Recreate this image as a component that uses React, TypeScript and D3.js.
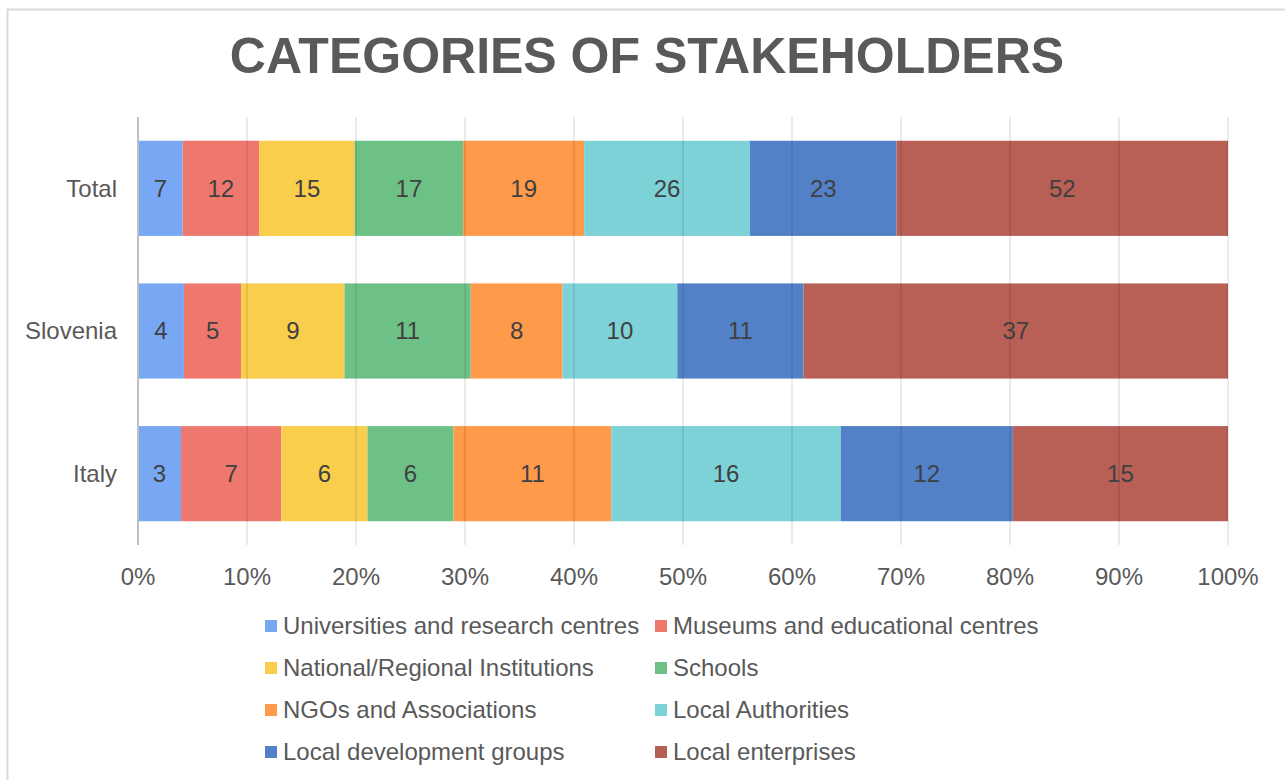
import React from "react";
import * as d3 from "d3";

const categories = ["Total", "Slovenia", "Italy"];
const seriesNames = [
  "Universities and research centres",
  "Museums and educational centres",
  "National/Regional Institutions",
  "Schools",
  "NGOs and Associations",
  "Local Authorities",
  "Local development groups",
  "Local enterprises",
];
const universities = [7, 4, 3];
const museums = [12, 5, 7];
const national = [15, 9, 6];
const schools = [17, 11, 6];
const ngos = [19, 8, 11];
const localAuthorities = [26, 10, 16];
const localDevelopment = [23, 11, 12];
const localEnterprises = [52, 37, 15];
const seriesColors = ["#78A8F4", "#EF786E", "#F9CE4C", "#6DC186", "#FF9A4B", "#7DD2D8", "#5281C8", "#B85F56"];
const tickValues = [0, 0.1, 0.2, 0.3, 0.4, 0.5, 0.6, 0.7, 0.8, 0.9, 1];

const seriesValues = [universities, museums, national, schools, ngos, localAuthorities, localDevelopment, localEnterprises];

export default function App() {
  const W = 1285, H = 780;
  const x = d3.scaleLinear().domain([0, 1]).range([138, 1228]);
  const y = d3.scaleBand<string>().domain(categories).range([117, 545]).paddingInner(0.333).paddingOuter(0.1665);
  const fmt = d3.format(".0%");
  const font = "'Liberation Sans', Arial, sans-serif";

  const rows = categories.map((c, ci) => {
    const vals = seriesValues.map((s) => s[ci]);
    const total = d3.sum(vals);
    let cum = 0;
    return vals.map((v, si) => {
      const x0 = cum / total;
      cum += v;
      return { c, si, v, x0, x1: cum / total };
    });
  });

  const legendCols = [265, 655];
  const legendRows = [626, 668, 710, 752];

  return (
    <svg width={W} height={H} style={{ position: "absolute", left: 0, top: 0, background: "#fff" }} fontFamily={font}>
      <rect x={0} y={0} width={W} height={H} fill="#fff" />
      <rect x={7.5} y={9.5} width={1300} height={800} fill="none" stroke="#d9d9d9" strokeWidth={2} />
      <text x={647} y={73} textAnchor="middle" fontSize={50} fontWeight="bold" fill="#595959">
        CATEGORIES OF STAKEHOLDERS
      </text>
      {rows.map((segs) =>
        segs.map((d) => (
          <rect key={d.c + d.si} x={x(d.x0)} y={y(d.c)!} width={x(d.x1) - x(d.x0)} height={y.bandwidth()} fill={seriesColors[d.si]} />
        ))
      )}
      {tickValues.map((t) => (
        <line key={t} x1={x(t)} x2={x(t)} y1={117} y2={545} stroke={t === 0 ? "#bfbfbf" : "rgba(0,0,0,0.11)"} strokeWidth={t === 0 ? 2 : 1.5} />
      ))}
      {rows.map((segs) =>
        segs.map((d) => (
          <text key={"l" + d.c + d.si} x={(x(d.x0) + x(d.x1)) / 2} y={y(d.c)! + y.bandwidth() / 2} dy="0.35em" textAnchor="middle" fontSize={24} fill="#404040">
            {d.v}
          </text>
        ))
      )}
      {categories.map((c) => (
        <text key={c} x={117} y={y(c)! + y.bandwidth() / 2} dy="0.35em" textAnchor="end" fontSize={24} fill="#595959">
          {c}
        </text>
      ))}
      {tickValues.map((t) => (
        <text key={"t" + t} x={x(t)} y={577} dy="0.35em" textAnchor="middle" fontSize={24} fill="#595959">
          {fmt(t)}
        </text>
      ))}
      {seriesNames.map((n, i) => {
        const lx = legendCols[i % 2];
        const ly = legendRows[Math.floor(i / 2)];
        return (
          <g key={n}>
            <rect x={lx} y={ly - 6} width={12} height={12} fill={seriesColors[i]} />
            <text x={lx + 18} y={ly} dy="0.35em" fontSize={24} fill="#595959">
              {n}
            </text>
          </g>
        );
      })}
    </svg>
  );
}
